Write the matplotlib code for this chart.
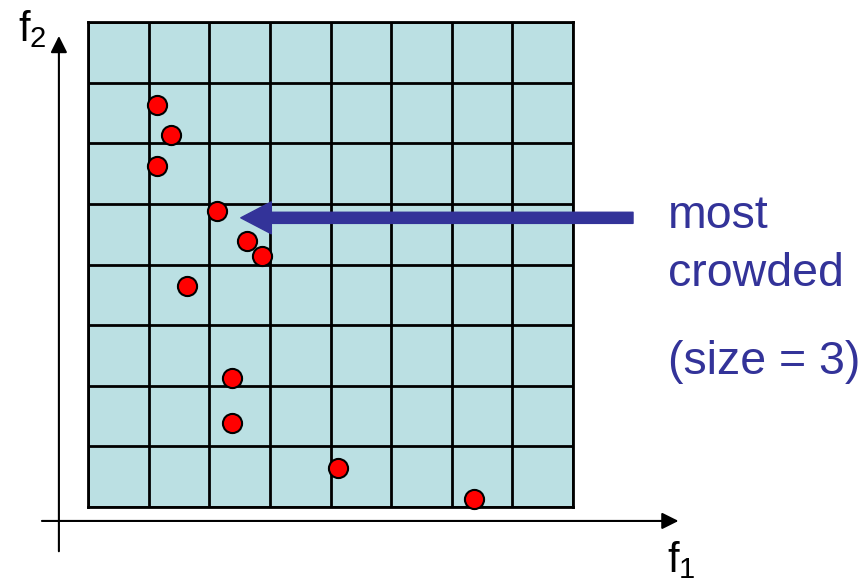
import numpy as np
from matplotlib import pyplot as plt

plt.rcParams['font.family'] = ['Liberation Sans', 'DejaVu Sans']
plt.rcParams['mathtext.fontset'] = 'custom'
plt.rcParams['mathtext.rm'] = 'Liberation Sans'
plt.rcParams['mathtext.it'] = 'Liberation Sans'

# solutions in grid units (f1, f2)
f1 = [1.13, 1.37, 1.13, 2.13, 2.62, 2.87, 1.63, 2.37, 2.37, 4.13, 6.37]
f2 = [6.63, 6.14, 5.63, 4.89, 4.39, 4.14, 3.64, 2.13, 1.39, 0.64, 0.14]
n_cells = 8
label_lines = ['most', 'crowded', '(size = 3)']


def main():
    fig = plt.figure(figsize=(8.68, 5.81), dpi=100)
    ax = fig.add_axes([88 / 868, 74 / 581, 485 / 868, 485 / 581])
    ax.set_xlim(0, n_cells)
    ax.set_ylim(0, n_cells)
    ax.set_facecolor('#bbe0e3')
    ax.set_xticks(np.arange(n_cells + 1))
    ax.set_yticks(np.arange(n_cells + 1))
    ax.grid(True, color='black', lw=2)
    ax.tick_params(length=0, labelbottom=False, labelleft=False)
    for s in ax.spines.values():
        s.set_linewidth(2)

    #Point
    ax.scatter(f1, f2, s=190, c='#ff0000', edgecolors='black', linewidths=1.5, zorder=3, clip_on=False)

    # axes arrows
    axis_arrow = dict(arrowstyle='-|>,head_length=0.5,head_width=0.25', lw=1.5, color='black',
                      mutation_scale=20, shrinkA=0, shrinkB=0)
    ax.annotate('', xy=(9.74, -0.23), xytext=(-0.76, -0.23), annotation_clip=False, arrowprops=axis_arrow)
    ax.annotate('', xy=(-0.48, 7.77), xytext=(-0.48, -0.73), annotation_clip=False, arrowprops=axis_arrow)
    ax.text(-1.15, 7.68, r'$\mathregular{f_2}$', fontsize=30, clip_on=False)
    ax.text(9.55, -1.07, r'$\mathregular{f_1}$', fontsize=30, clip_on=False)

    # most crowded arrow
    ax.annotate('', xy=(2.52, 4.77), xytext=(8.99, 4.77), annotation_clip=False,
                arrowprops=dict(arrowstyle='simple,head_length=1.1,head_width=1.15,tail_width=0.4',
                                color='#333399', mutation_scale=20, shrinkA=0, shrinkB=0))

    #Label
    for txt, y in zip(label_lines, [4.6, 3.64, 2.19]):
        ax.text(9.57, y, txt, fontsize=33.5, color='#333399', va='baseline', ha='left', clip_on=False)

    fig.savefig('out.png', dpi=100)


if __name__ == '__main__':
    main()
